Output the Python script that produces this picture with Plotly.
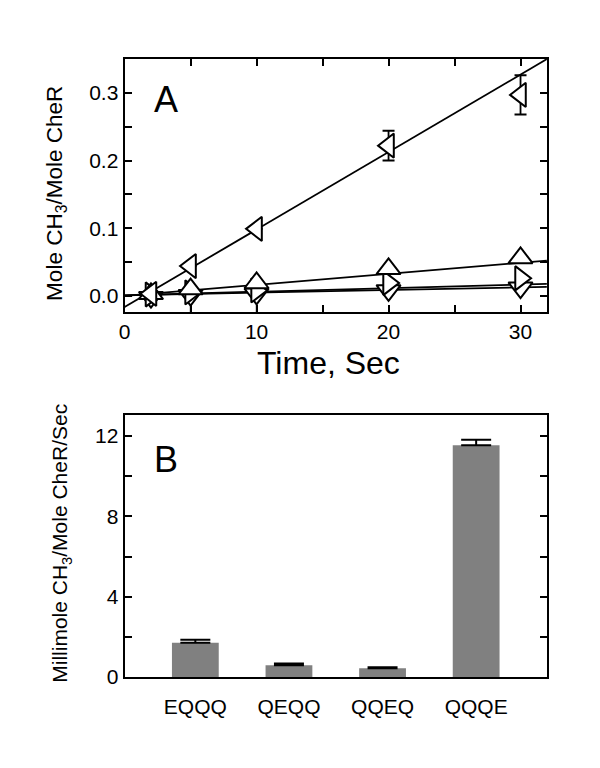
import plotly.graph_objects as go

# ---------------- Panel A data ----------------
time_s = [2, 5, 10, 20, 30]
qqqe_vals = [0.003, 0.044, 0.099, 0.222, 0.297]
qqqe_err = [0, 0, 0, 0.022, 0.029]
eqqq_vals = [0.003, 0.010, 0.019, 0.040, 0.056]
qeqq_vals = [0.002, 0.005, 0.008, 0.019, 0.026]
qqeq_vals = [-0.002, 0.001, 0.003, 0.008, 0.012]
qqeq_err_down = [0, 0.03, 0.03, 0, 0]

fit_names = ["QQQE", "EQQQ", "QEQQ", "QQEQ"]
fit_slope = [0.01145, 0.00163, 0.00053, 0.00039]
fit_intercept = [-0.0165, 0.0, 0.0008, 0.0008]
fit_x = [0, 32]

# ---------------- Panel B data ----------------
mutants = ["EQQQ", "QEQQ", "QQEQ", "QQQE"]
rates = [1.70, 0.59, 0.43, 11.54]
rate_err = [0.15, 0.08, 0.06, 0.28]

FONT = "Liberation Sans, Arial, sans-serif"
fig = go.Figure()

# fit lines
for s, b in zip(fit_slope, fit_intercept):
    fig.add_trace(go.Scatter(
        x=fit_x, y=[b + s * xx for xx in fit_x], mode="lines",
        line=dict(color="black", width=1.8), xaxis="x", yaxis="y",
        showlegend=False, hoverinfo="skip"))

def mk(sym):
    return dict(symbol=sym, size=21, color="white",
                line=dict(color="black", width=2))

fig.add_trace(go.Scatter(x=time_s, y=qqeq_vals, mode="markers",
                         marker=mk("triangle-down"),
                         error_y=dict(type="data", symmetric=False,
                                      array=[0] * len(qqeq_err_down),
                                      arrayminus=qqeq_err_down, color="black",
                                      thickness=1.5, width=6),
                         xaxis="x", yaxis="y", showlegend=False))
fig.add_trace(go.Scatter(x=time_s, y=qeqq_vals, mode="markers",
                         marker=mk("triangle-right"),
                         xaxis="x", yaxis="y", showlegend=False))
fig.add_trace(go.Scatter(x=time_s, y=eqqq_vals, mode="markers",
                         marker=mk("triangle-up"),
                         xaxis="x", yaxis="y", showlegend=False))
fig.add_trace(go.Scatter(x=time_s, y=qqqe_vals, mode="markers",
                         marker=mk("triangle-left"),
                         error_y=dict(type="data", array=qqqe_err, color="black",
                                      thickness=1.8, width=6),
                         xaxis="x", yaxis="y", showlegend=False))

# bars
fig.add_trace(go.Bar(x=mutants, y=rates, width=0.5,
                     marker=dict(color="#808080", line=dict(width=0)),
                     error_y=dict(type="data", array=rate_err,
                                  arrayminus=[0] * len(rate_err), symmetric=False,
                                  color="black", thickness=2, width=15),
                     xaxis="x2", yaxis="y2", showlegend=False))

xdom = [111.7 / 600, 538.3 / 600]
axis_common = dict(showline=True, linecolor="black", linewidth=2, mirror="ticks",
                   ticks="inside", ticklen=7, tickwidth=1.5, tickcolor="black",
                   showgrid=False, zeroline=False,
                   tickfont=dict(family=FONT, size=21, color="black"))

fig.update_layout(
    width=600, height=768, margin=dict(l=0, r=0, t=0, b=0),
    paper_bgcolor="white", plot_bgcolor="white",
    font=dict(family=FONT, color="black"),
    xaxis=dict(domain=xdom, anchor="y", range=[0, 32], tickvals=[0, 10, 20, 30],
               minor=dict(ticks="inside", dtick=5, ticklen=7, tickwidth=1.5,
                          tickcolor="black", showgrid=False),
               **axis_common),
    yaxis=dict(domain=[1 - 308.5 / 768, 1 - 51.5 / 768], anchor="x",
               range=[-0.024, 0.3504], tickvals=[0, 0.1, 0.2, 0.3],
               tickformat=".1f",
               minor=dict(ticks="inside", dtick=0.05, ticklen=7, tickwidth=1.5,
                          tickcolor="black", showgrid=False),
               **axis_common),
    xaxis2=dict(domain=xdom, anchor="y2", range=[-0.756, 3.756],
                showline=True, linecolor="black", linewidth=2, mirror=True,
                ticks="", showgrid=False, zeroline=False,
                ticklabelstandoff=10,
                tickfont=dict(family=FONT, size=21, color="black")),
    yaxis2=dict(domain=[1 - 678.7 / 768, 1 - 413.3 / 768], anchor="x2",
                range=[0, 13.03], tickvals=[0, 4, 8, 12],
                minor=dict(ticks="inside", dtick=2, ticklen=7, tickwidth=1.5,
                           tickcolor="black", showgrid=False),
                **axis_common),
    bargap=0.5,
)

ann = [
    dict(text="A", x=154 / 600, y=1 - 93 / 768, font=dict(size=36)),
    dict(text="B", x=154 / 600, y=1 - 458 / 768, font=dict(size=36)),
    dict(text="Time, Sec", x=318 / 600, y=1 - 360 / 768, font=dict(size=32)),
    dict(text="Mole CH<sub>3</sub>/Mole CheR", x=43 / 600, y=1 - 188 / 768,
         font=dict(size=22.5), textangle=-90),
    dict(text="Millimole CH<sub>3</sub>/Mole CheR/Sec", x=48 / 600, y=1 - 543 / 768,
         font=dict(size=21), textangle=-90),
]
for a in ann:
    a.update(xref="paper", yref="paper", showarrow=False,
             xanchor="center", yanchor="middle")
    a["font"].update(family=FONT, color="black")
fig.update_layout(annotations=ann)

fig.write_html("out.html")
